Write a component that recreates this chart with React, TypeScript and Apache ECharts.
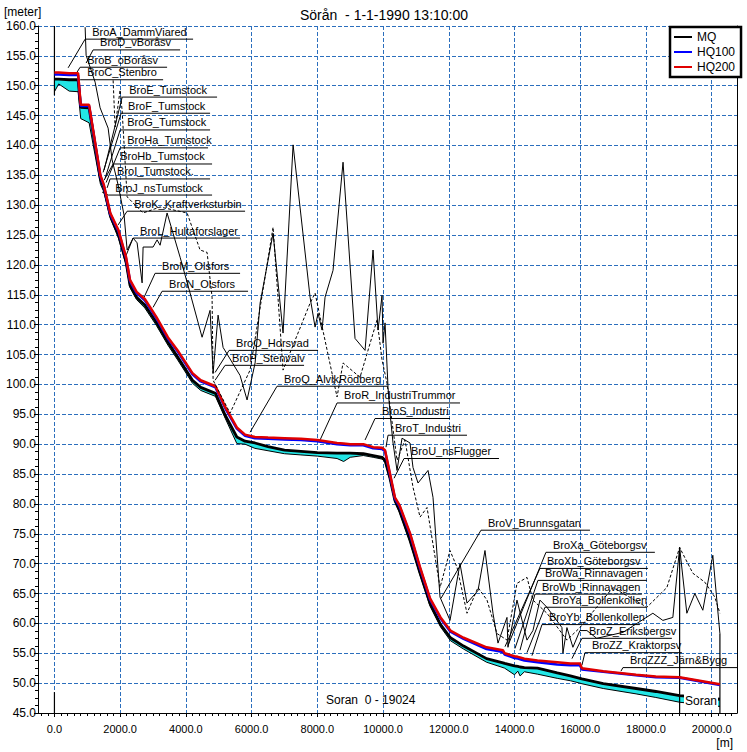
import React, { useEffect, useRef } from "react";
import * as echarts from "echarts";

const FONT = '"Liberation Sans", Arial, sans-serif';
const GRID_BLUE = "#2c6fbd";

// Water-surface profiles (chainage in m, level in m)
const chainage = [0, 130, 450, 720, 800, 1055, 1400, 1500, 1700, 1950, 2180, 2300, 2500, 2750, 3100, 3450, 3750, 4200, 4450, 4900, 5200, 5550, 5800, 6100, 6500, 7000, 7500, 8000, 8600, 8800, 9000, 9400, 9700, 9970, 10060, 10210, 10360, 10500, 10820, 11120, 11430, 11750, 12050, 12450, 13150, 13650, 13700, 14000, 14100, 14170, 14300, 14700, 15300, 15700, 15990, 16050, 16700, 17700, 18300, 19024, 20250];
const hq200 = [152.2, 152.2, 152.1, 152.1, 146.8, 146.8, 135.0, 133.5, 128.7, 125.8, 121.3, 117.5, 115.5, 114.3, 111.3, 107.9, 105.7, 101.9, 100.7, 99.7, 96.2, 92.8, 91.6, 91.2, 91.1, 91.0, 90.9, 90.7, 90.2, 90.1, 90.0, 90.0, 89.5, 89.4, 89.0, 85.1, 81.1, 79.8, 75.1, 69.5, 64.2, 61.0, 58.8, 57.6, 56.0, 55.5, 55.0, 54.5, 54.4, 54.3, 54.1, 53.8, 53.5, 53.3, 53.3, 52.5, 52.0, 51.4, 51.1, 51.0, 49.8];
const hq100 = [151.9, 151.9, 151.8, 151.8, 146.6, 146.6, 134.8, 133.3, 128.5, 125.6, 121.1, 117.3, 115.3, 114.1, 111.1, 107.7, 105.5, 101.7, 100.5, 99.5, 96.0, 92.6, 91.4, 91.0, 90.9, 90.8, 90.7, 90.5, 90.0, 89.9, 89.8, 89.8, 89.3, 89.2, 88.8, 84.9, 80.9, 79.6, 74.9, 69.3, 64.0, 60.8, 58.6, 57.4, 55.7, 55.2, 54.8, 54.2, 54.1, 54.0, 53.8, 53.5, 53.1, 53.0, 53.0, 52.3, 51.9, 51.3, 51.0, 50.9, 49.7];
const mq = [151.1, 151.1, 151.0, 151.0, 146.4, 146.3, 134.4, 133.0, 128.3, 125.0, 120.5, 116.6, 114.6, 113.3, 110.4, 107.1, 104.6, 100.7, 99.5, 98.5, 94.8, 91.2, 90.5, 90.2, 89.6, 89.0, 88.8, 88.6, 88.5, 88.5, 88.5, 88.4, 88.1, 87.8, 87.3, 84.3, 80.6, 78.9, 73.9, 68.5, 63.3, 59.8, 57.6, 56.2, 54.1, 53.4, 53.3, 52.9, 52.8, 52.7, 52.6, 52.5, 51.7, 51.2, 50.8, 50.7, 49.9, 49.1, 48.6, 47.9, 47.3];
const bed = [149.0, 150.3, 149.1, 149.0, 144.5, 143.8, 133.5, 132.3, 127.8, 124.5, 120.0, 116.2, 114.2, 112.8, 109.9, 106.6, 104.1, 100.2, 99.0, 98.0, 94.3, 90.1, 90.0, 89.3, 88.9, 88.4, 88.2, 88.0, 87.6, 87.1, 87.8, 88.1, 87.8, 87.5, 87.0, 84.0, 80.3, 78.6, 73.6, 68.2, 62.9, 59.4, 57.1, 55.7, 53.5, 52.6, 52.5, 51.4, 52.0, 51.2, 51.9, 51.5, 50.8, 50.4, 50.0, 49.9, 49.1, 48.2, 47.6, 46.8, 46.1];

// Bank levels [chainage, level]
const leftBank = [[934, 159.8], [964, 155.1], [1238, 150.6], [1390, 146.3], [1634, 142.9], [1755, 137.6], [1938, 133.4], [2120, 128.3], [2212, 122.5], [2394, 124.5], [2516, 123.7], [2668, 117.0], [2698, 123.0], [3002, 123.0], [3124, 124.2], [3215, 123.3], [3428, 128.7], [3824, 121.3], [4128, 115.3], [4493, 107.9], [4736, 112.4], [4828, 101.9], [4980, 111.6], [5132, 106.2], [5649, 101.5], [5862, 97.4], [6106, 103.6], [6258, 113.6], [6653, 125.3], [6957, 108.6], [7262, 140.1], [7779, 114.6], [7931, 109.6], [8022, 111.9], [8144, 109.1], [8235, 114.6], [8478, 119.1], [8782, 137.2], [9147, 107.7], [9452, 105.7], [9695, 122.5], [9847, 109.1], [9969, 114.9], [9999, 106.9], [10060, 110.3], [10151, 99.5], [10212, 95.2], [10303, 90.2], [10425, 85.6], [10577, 91.0], [10820, 90.2], [10911, 86.1], [11064, 83.5], [11368, 85.6], [11520, 81.1], [11733, 64.4], [12037, 60.5], [12341, 70.0], [12554, 63.4], [12889, 65.5], [13101, 72.2], [13345, 61.7], [13497, 56.7], [13771, 61.0], [13801, 56.0], [14075, 63.9], [14379, 57.2], [14561, 58.8], [14774, 63.9], [14987, 62.7], [15443, 59.3], [15473, 55.0], [15595, 59.3], [15777, 56.0], [15990, 58.8], [16203, 58.8], [16500, 57.5], [17300, 58.5], [18210, 61.7], [18514, 60.5], [18818, 61.0], [19024, 72.7], [19244, 61.7], [19487, 65.0], [19730, 62.2], [20034, 71.4], [20156, 63.9], [20250, 58.3]];
const rightBank = [[1786, 150.9], [1846, 143.1], [1999, 149.3], [2059, 145.9], [2212, 131.4], [2698, 128.7], [3215, 129.7], [4037, 128.7], [4432, 122.5], [4645, 122.1], [4797, 114.6], [4828, 100.7], [5345, 95.2], [5953, 102.4], [6653, 126.3], [6957, 102.4], [7779, 113.6], [7931, 115.3], [8083, 111.3], [8600, 97.9], [8782, 103.6], [9299, 101.2], [9817, 110.8], [9969, 104.1], [10121, 100.2], [10425, 87.3], [10668, 90.7], [10911, 82.8], [11125, 77.8], [11338, 79.4], [11733, 66.0], [12037, 72.2], [12250, 69.4], [12554, 61.7], [12889, 66.0], [13163, 63.9], [13467, 58.3], [13771, 57.2], [14075, 66.7], [14379, 67.7], [14561, 63.9], [14987, 61.7], [15595, 57.2], [15990, 59.3], [16994, 66.0], [18028, 62.7], [18636, 66.0], [19024, 72.7], [19426, 68.4], [19791, 66.9], [20095, 64.4], [20250, 61.7]];

// Bridge labels
const bridgeNames = ["BroA_DammViared", "BroD_vBoråsv", "BroB_oBoråsv", "BroC_Stenbro", "BroE_Tumstock", "BroF_Tumstock", "BroG_Tumstock", "BroHa_Tumstock", "BroHb_Tumstock", "BroI_Tumstock.", "BroJ_nsTumstock", "BroK_Kraftverksturbin", "BroL_Hultaforslager", "BroM_Olsfors", "BroN_Olsfors", "BroO_Horsvad", "BroP_Stenvalv", "BroQ_AlvikRödberg", "BroR_IndustriTrummor", "BroS_Industri", "BroT_Industri", "BroU_nsFlugger", "BroV_Brunnsgatan", "BroXa_Göteborgsv", "BroXb_Göteborgsv", "BroWa_Rinnavagen", "BroWb_Rinnavagen", "BroYa_Bollenkollen", "BroYb_Bollenkollen", "BroZ_Eriksbergsv", "BroZZ_Kraktorpsv", "BroZZZ_Järn&Bygg"];
const labelChainage = [934, 1177, 782, 782, 2062, 2029, 1999, 1999, 1786, 1694, 1634, 2212, 2394, 3063, 3276, 5314, 5193, 6774, 8600, 9756, 10151, 10638, 12980, 14957, 14774, 14713, 14622, 14926, 14835, 16052, 16143, 17299];
const labelLevel = [157.8, 156.0, 153.1, 151.0, 148.1, 145.4, 142.6, 139.6, 136.9, 134.4, 131.7, 129.0, 124.5, 118.6, 115.6, 105.7, 103.2, 99.7, 96.9, 94.3, 91.5, 87.6, 75.6, 71.9, 69.2, 67.2, 64.9, 62.7, 59.8, 57.5, 55.1, 52.6];
const underlineEnd = [4219, 3824, 3428, 3307, 4949, 4736, 4736, 4675, 4797, 4736, 4797, 5801, 5649, 5649, 5892, 8022, 7596, 10121, 12341, 12037, 12554, 13527, 16296, 18271, 18058, 18028, 17876, 18028, 17815, 18788, 19092, 20770];
const bridgeChainage = [417, 964, 691, 782, 1512, 1481, 1542, 1573, 1512, 1603, 1451, 1938, 2181, 2729, 3002, 4888, 4888, 5953, 8083, 9452, 10090, 10334, 11763, 13801, 13710, 14014, 14166, 14379, 14531, 15747, 16052, 17238];
const bridgeLevel = [153.0, 153.8, 152.3, 151.0, 135.9, 135.5, 134.5, 133.8, 134.2, 132.9, 132.2, 126.7, 121.6, 114.6, 112.9, 102.0, 100.7, 92.0, 90.7, 90.7, 89.5, 84.3, 64.2, 56.3, 56.1, 55.8, 55.5, 55.1, 54.6, 54.1, 53.0, 52.0];

// Branch boundary markers [chainage, from level, to level]
const markers = [[0, 148.4, 160], [0, 45, 48.5], [19024, 45, 72.7], [20250, 45, 58.3]];

const xTicks = [0, 2000, 4000, 6000, 8000, 10000, 12000, 14000, 16000, 18000, 20000];
const xMinorTicks: number[] = [];
for (let v = -400; v <= 20600; v += 200) xMinorTicks.push(v);

const zip = (xs: number[], ys: number[]) => xs.map((x, i) => [x, ys[i]]);

export default function App() {
  const ref = useRef<HTMLDivElement>(null);
  useEffect(() => {
    if (!ref.current) return;
    const chart = echarts.init(ref.current, null, { renderer: "svg" });
    const option: any = {
      animation: false,
      backgroundColor: "#fff",
      textStyle: { fontFamily: FONT },
      grid: { left: 38, top: 26, right: 10, bottom: 39, containLabel: false },
      legend: {
        orient: "vertical",
        left: 670,
        top: 27,
        data: ["MQ", "HQ100", "HQ200"],
        icon: "rect",
        itemWidth: 18,
        itemHeight: 2,
        itemGap: 3,
        itemTextGap: 8,
        padding: [4, 6, 4, 4],
        borderColor: "#000",
        borderWidth: 2.5,
        backgroundColor: "#fff",
        textStyle: { fontSize: 12, color: "#000", fontFamily: FONT },
        selectedMode: false,
      },
      xAxis: [
        {
          type: "value",
          min: -500,
          max: 20770,
          position: "bottom",
          axisLine: { show: true, onZero: false, lineStyle: { color: "#000", width: 1 } },
          axisTick: { show: true, length: 4, customValues: xTicks, lineStyle: { color: "#000" } },
          axisLabel: {
            customValues: xTicks,
            formatter: (v: number) => v.toFixed(1),
            color: "#000",
            fontSize: 11,
            fontFamily: FONT,
            margin: 10,
          },
          splitLine: { show: true, lineStyle: { color: GRID_BLUE, type: [4, 2], width: 1 } },
        },
        {
          type: "value",
          min: -500,
          max: 20770,
          position: "bottom",
          gridIndex: 0,
          axisLine: { show: false, onZero: false },
          axisTick: { show: true, length: 3, customValues: xMinorTicks, lineStyle: { color: "#000" } },
          axisLabel: { show: false },
          splitLine: { show: false },
        },
      ],
      yAxis: [
        {
          type: "value",
          min: 45,
          max: 160,
          interval: 5,
          axisLine: { show: true, onZero: false, lineStyle: { color: "#000", width: 1 } },
          axisTick: { show: true, length: 4, lineStyle: { color: "#000" } },
          minorTick: { show: true, splitNumber: 4, length: 3, lineStyle: { color: "#000" } },
          axisLabel: {
            formatter: (v: number) => v.toFixed(1),
            color: "#000",
            fontSize: 12,
            fontFamily: FONT,
            margin: 2,
          },
          splitLine: { show: true, lineStyle: { color: GRID_BLUE, type: [4, 2], width: 1 } },
        },
        {
          type: "value",
          min: 45,
          max: 160,
          position: "right",
          axisLine: { show: true, onZero: false, lineStyle: { color: "#000", width: 1 } },
          axisTick: { show: false },
          axisLabel: { show: false },
          splitLine: { show: false },
        },
      ],
      series: [
        {
          type: "custom",
          name: "waterFill",
          coordinateSystem: "cartesian2d",
          data: [[chainage[0], mq[0]]],
          silent: true,
          renderItem: (_p: any, api: any) => {
            const pts: number[][] = [];
            for (let i = 0; i < chainage.length; i++) pts.push(api.coord([chainage[i], mq[i]]));
            for (let i = chainage.length - 1; i >= 0; i--) pts.push(api.coord([chainage[i], bed[i]]));
            return { type: "polygon", shape: { points: pts }, style: { fill: "#22e6e6", stroke: "none" } };
          },
        },
        {
          type: "line",
          name: "bed",
          data: zip(chainage, bed),
          symbol: "none",
          lineStyle: { color: "#000", width: 1 },
          silent: true,
        },
        {
          type: "line",
          name: "MQ",
          data: zip(chainage, mq),
          symbol: "none",
          color: "#000",
          lineStyle: { color: "#000", width: 2.8 },
          silent: true,
        },
        {
          type: "line",
          name: "HQ100",
          data: zip(chainage, hq100),
          symbol: "none",
          color: "#0000ff",
          lineStyle: { color: "#0000ff", width: 2.5 },
          silent: true,
        },
        {
          type: "line",
          name: "HQ200",
          data: zip(chainage, hq200),
          symbol: "none",
          color: "#e00000",
          lineStyle: { color: "#e00000", width: 2.5 },
          silent: true,
        },
        {
          type: "line",
          name: "leftBank",
          data: leftBank,
          symbol: "none",
          lineStyle: { color: "#000", width: 1 },
          silent: true,
        },
        {
          type: "line",
          name: "rightBank",
          data: rightBank,
          symbol: "none",
          lineStyle: { color: "#000", width: 1, type: [3, 2] },
          silent: true,
        },
        {
          type: "custom",
          name: "markers",
          coordinateSystem: "cartesian2d",
          data: markers.map((m) => [m[0], m[1], m[2]]),
          silent: true,
          renderItem: (params: any, api: any) => {
            const m = markers[params.dataIndex];
            const a = api.coord([m[0], m[1]]);
            const b = api.coord([m[0], m[2]]);
            return {
              type: "line",
              shape: { x1: a[0], y1: a[1], x2: b[0], y2: b[1] },
              style: { stroke: "#000", lineWidth: 1.2 },
            };
          },
        },
        {
          type: "custom",
          name: "labels",
          coordinateSystem: "cartesian2d",
          data: bridgeNames.map((_, i) => [labelChainage[i], labelLevel[i]]),
          silent: true,
          clip: false,
          renderItem: (params: any, api: any) => {
            const i = params.dataIndex;
            const a = api.coord([labelChainage[i], labelLevel[i]]);
            const e = api.coord([underlineEnd[i], labelLevel[i]]);
            const b = api.coord([bridgeChainage[i], bridgeLevel[i]]);
            return {
              type: "group",
              children: [
                { type: "line", shape: { x1: a[0], y1: a[1], x2: b[0], y2: b[1] }, style: { stroke: "#000", lineWidth: 1 } },
                { type: "line", shape: { x1: a[0], y1: a[1], x2: Math.min(e[0], 737), y2: a[1] }, style: { stroke: "#000", lineWidth: 1 } },
                {
                  type: "text",
                  x: a[0] + 7,
                  y: a[1] - 2,
                  style: { text: bridgeNames[i], fill: "#000", fontSize: 11, fontFamily: FONT, align: "left", verticalAlign: "bottom" },
                },
              ],
            };
          },
        },
      ],
      graphic: [
        { type: "text", x: 384, y: 15, style: { text: "Sörån  - 1-1-1990 13:10:00", fill: "#000", fontSize: 14, fontFamily: FONT, align: "center", verticalAlign: "middle" } },
        { type: "text", x: 4, y: 12, style: { text: "[meter]", fill: "#000", fontSize: 12, fontFamily: FONT, align: "left", verticalAlign: "middle" } },
        { type: "text", x: 733, y: 743, style: { text: "[m]", fill: "#000", fontSize: 12, fontFamily: FONT, align: "right", verticalAlign: "middle" } },
        { type: "text", x: 326, y: 700, style: { text: "Soran  0 - 19024", fill: "#000", fontSize: 12, fontFamily: FONT, align: "left", verticalAlign: "middle" } },
        { type: "text", x: 684, y: 701, z: 100, style: { text: "Soran", fill: "#000", fontSize: 12, fontFamily: FONT, align: "left", verticalAlign: "middle", backgroundColor: "#fff", padding: [1, 1] } },
      ],
    };
    chart.setOption(option);
    return () => chart.dispose();
  }, []);
  return <div ref={ref} style={{ width: 747, height: 752, position: "absolute", left: 0, top: 0 }} />;
}
